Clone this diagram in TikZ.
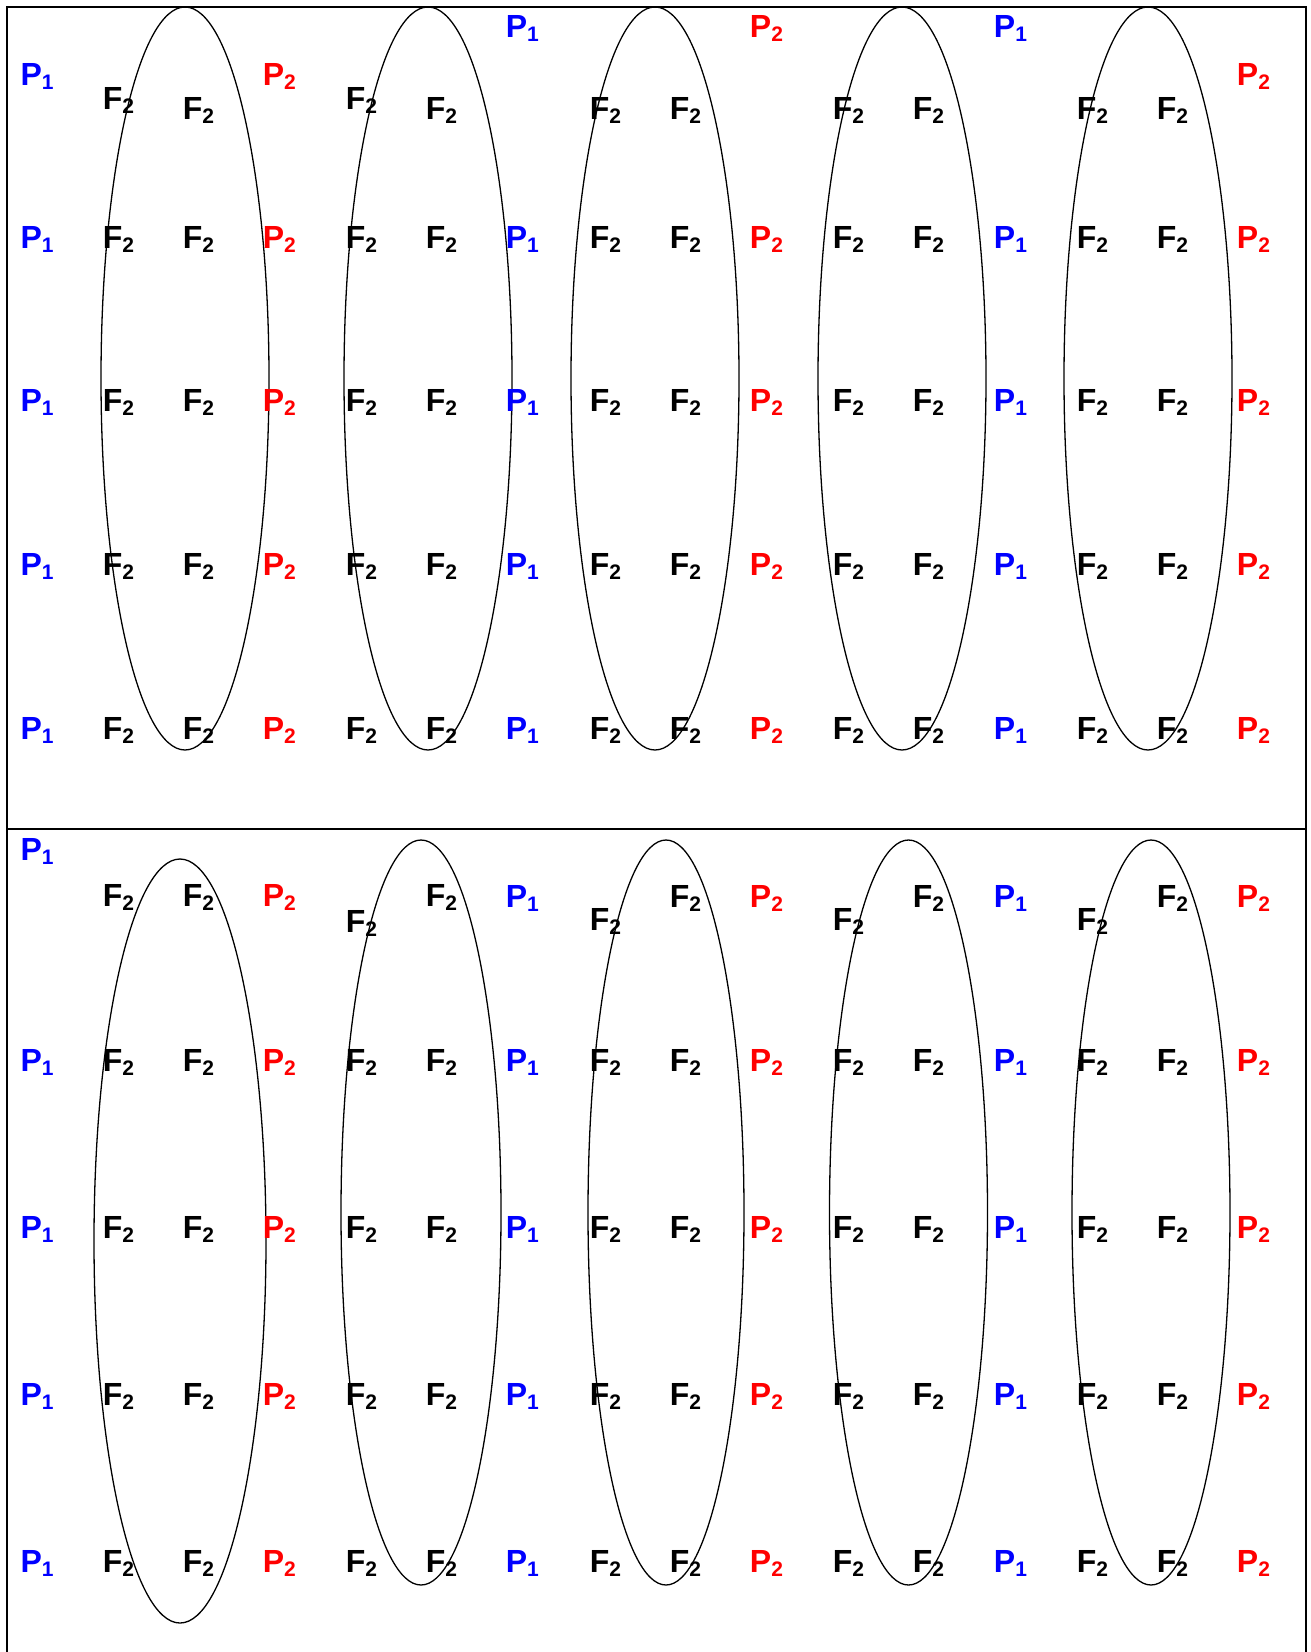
\documentclass[tikz,border=0pt]{standalone}
\usepackage{fontspec}
\setmainfont{Liberation Sans}
\newcommand\lbltxt[2]{#1\raisebox{-4pt}{\fontsize{21}{21}\selectfont #2}}
\tikzset{
  lbl/.style={anchor=base west, inner sep=0pt, xshift=-2.3pt,
              font=\fontsize{32}{38}\selectfont\bfseries},
  pone/.style={lbl, text=blue},
  ptwo/.style={lbl, text={rgb,255:red,255;green,0;blue,0}},
  fff/.style={lbl, text=black},
  frame/.style={line width=1.5pt, black},
  loop/.style={line width=1.3pt, black},
}
\begin{document}
\begin{tikzpicture}[x=1pt,y=-1pt]
\useasboundingbox (0,0) rectangle (1311,1652);
% frame
\draw[frame] (7,1652) -- (7,7) -- (1306,7) -- (1306,1652);
\draw[frame] (7,829) -- (1306,829);
% top panel ellipses
\foreach \cx in {185,428,655,902,1148}
  \draw[loop] (\cx,378.5) ellipse [x radius=84, y radius=371.5];
% bottom panel ellipses
\draw[loop] (180,1241) ellipse [x radius=86, y radius=382];
\draw[loop] (421,1212.5) ellipse [x radius=80, y radius=372.5];
\draw[loop] (666,1212.5) ellipse [x radius=78, y radius=372.5];
\draw[loop] (908.5,1212.5) ellipse [x radius=79, y radius=372.5];
\draw[loop] (1151,1212.5) ellipse [x radius=79, y radius=372.5];
% regular rows
\foreach \r/\y in {t2/248, t3/411.7, t4/575.3, t5/739.5, b2/1071, b3/1238, b4/1405, b5/1572}{
  \foreach \c/\x in {0/22.7, 6/508, 12/996}
    \node[pone] (\r-\c) at (\x,\y) {\lbltxt{P}{1}};
  \foreach \c/\x in {3/265, 9/752, 15/1239}
    \node[ptwo] (\r-\c) at (\x,\y) {\lbltxt{P}{2}};
  \foreach \c/\x in {1/105, 2/185, 4/348, 5/428, 7/592, 8/672, 10/835, 11/915, 13/1079, 14/1159}
    \node[fff] (\r-\c) at (\x,\y) {\lbltxt{F}{2}};
}
% top row of top panel
\node[pone] (t1-0) at (22.7,85) {\lbltxt{P}{1}};
\node[fff] (t1-1) at (105,109) {\lbltxt{F}{2}};
\node[fff] (t1-2) at (185,119) {\lbltxt{F}{2}};
\node[ptwo] (t1-3) at (265,85) {\lbltxt{P}{2}};
\node[fff] (t1-4) at (348,109) {\lbltxt{F}{2}};
\node[fff] (t1-5) at (428,119) {\lbltxt{F}{2}};
\node[pone] (t1-6) at (508,37) {\lbltxt{P}{1}};
\node[fff] (t1-7) at (592,119) {\lbltxt{F}{2}};
\node[fff] (t1-8) at (672,119) {\lbltxt{F}{2}};
\node[ptwo] (t1-9) at (752,37) {\lbltxt{P}{2}};
\node[fff] (t1-10) at (835,119) {\lbltxt{F}{2}};
\node[fff] (t1-11) at (915,119) {\lbltxt{F}{2}};
\node[pone] (t1-12) at (996,37) {\lbltxt{P}{1}};
\node[fff] (t1-13) at (1079,119) {\lbltxt{F}{2}};
\node[fff] (t1-14) at (1159,119) {\lbltxt{F}{2}};
\node[ptwo] (t1-15) at (1239,85) {\lbltxt{P}{2}};
% top row of bottom panel
\node[pone] (b1-0) at (22.7,860) {\lbltxt{P}{1}};
\node[fff] (b1-1) at (105,906) {\lbltxt{F}{2}};
\node[fff] (b1-2) at (185,906) {\lbltxt{F}{2}};
\node[ptwo] (b1-3) at (265,906) {\lbltxt{P}{2}};
\node[fff] (b1-4) at (348,932) {\lbltxt{F}{2}};
\node[fff] (b1-5) at (428,906) {\lbltxt{F}{2}};
\node[pone] (b1-6) at (508,907) {\lbltxt{P}{1}};
\node[fff] (b1-7) at (592,930) {\lbltxt{F}{2}};
\node[fff] (b1-8) at (672,907) {\lbltxt{F}{2}};
\node[ptwo] (b1-9) at (752,907) {\lbltxt{P}{2}};
\node[fff] (b1-10) at (835,930) {\lbltxt{F}{2}};
\node[fff] (b1-11) at (915,907) {\lbltxt{F}{2}};
\node[pone] (b1-12) at (996,907) {\lbltxt{P}{1}};
\node[fff] (b1-13) at (1079,930) {\lbltxt{F}{2}};
\node[fff] (b1-14) at (1159,907) {\lbltxt{F}{2}};
\node[ptwo] (b1-15) at (1239,907) {\lbltxt{P}{2}};
\end{tikzpicture}
\end{document}
